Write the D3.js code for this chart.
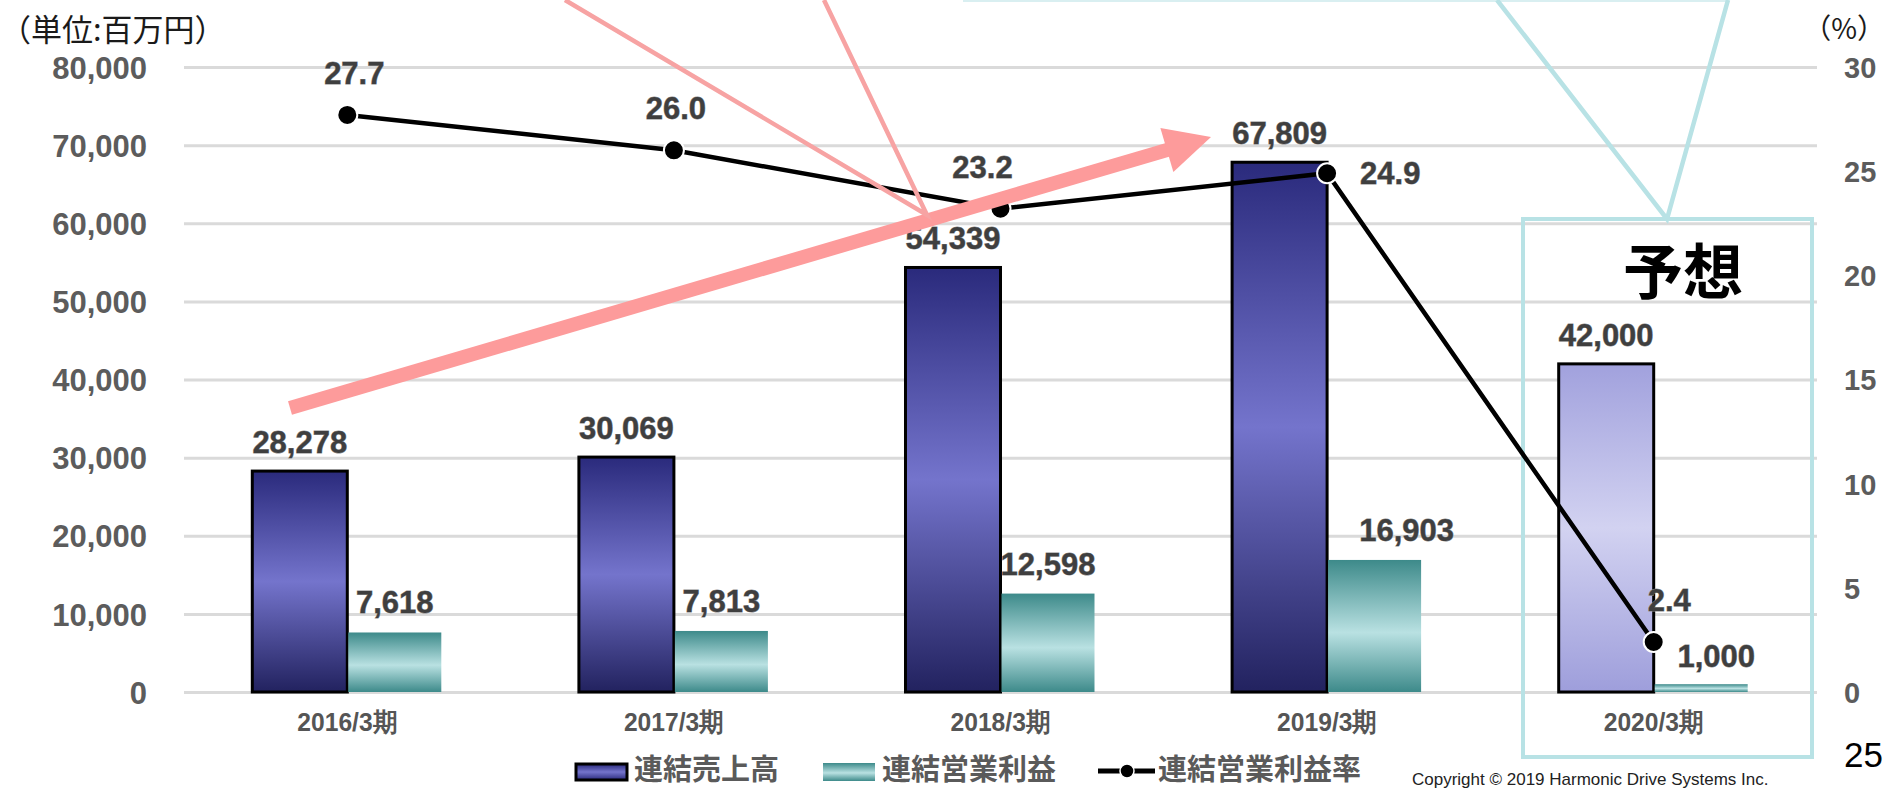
<!DOCTYPE html>
<html>
<head>
<meta charset="utf-8">
<script src="https://cdn.jsdelivr.net/npm/d3@7"></script>
<style>
  body { margin: 0; background: #fff; }
  svg { display: block; }
</style>
</head>
<body>
<svg id="chart" width="1885" height="789"></svg>
<script>
// data
var categories = ["2016/3期", "2017/3期", "2018/3期", "2019/3期", "2020/3期"];
var sales = [28278, 30069, 54339, 67809, 42000];      // 連結売上高
var profit = [7618, 7813, 12598, 16903, 1000];        // 連結営業利益
var margin = [27.7, 26.0, 23.2, 24.9, 2.4];           // 連結営業利益率 (%)
var leftTicks = [0, 10000, 20000, 30000, 40000, 50000, 60000, 70000, 80000];
var rightTicks = [0, 5, 10, 15, 20, 25, 30];
var legendNames = ["連結売上高", "連結営業利益", "連結営業利益率"];
var forecastIndex = 4;

var svg = d3.select("#chart");
var numFont = "'Liberation Sans', Arial, sans-serif";
var jpFont = "'Noto Sans CJK JP', sans-serif";

var x0 = 184, x1 = 1817, yTop = 67, yBase = 692;

var x = d3.scaleBand().domain(categories).range([x0, x1]);
var yL = d3.scaleLinear().domain([0, 80000]).range([yBase, yTop]);
var yR = d3.scaleLinear().domain([0, 30]).range([yBase, yTop]);
var cx = function (d) { return x(d) + x.bandwidth() / 2; };

// gradients
var defs = svg.append("defs");
function grad(id, stops) {
    var g = defs.append("linearGradient").attr("id", id)
        .attr("x1", 0).attr("y1", 0).attr("x2", 0).attr("y2", 1);
    stops.forEach(function (s) {
        g.append("stop").attr("offset", s[0]).attr("stop-color", s[1]);
    });
}
grad("gSales", [[0, "#2a2a7c"], [0.5, "#7474cc"], [1, "#22225f"]]);
grad("gProfit", [[0, "#3d8a8a"], [0.55, "#b9e1e2"], [1, "#3d8a8a"]]);
grad("gForecast", [[0, "#a1a1dd"], [0.5, "#d2d2f1"], [1, "#9e9edb"]]);
grad("gLegSales", [[0, "#2a2a7c"], [0.5, "#7474cc"], [1, "#2a2a7c"]]);

// gridlines
var grid = svg.append("g")
    .attr("transform", "translate(" + x0 + ",0)")
    .call(d3.axisLeft(yL).tickValues(leftTicks).tickSize(-(x1 - x0)).tickFormat(""));
grid.select(".domain").remove();
grid.selectAll("line").attr("stroke", "#dadada").attr("stroke-width", 3);

// left axis labels
var axL = svg.append("g")
    .attr("transform", "translate(" + x0 + ",0)")
    .call(d3.axisLeft(yL).tickValues(leftTicks).tickSize(0).tickPadding(37).tickFormat(d3.format(",")));
axL.select(".domain").remove();
axL.selectAll("text")
    .attr("font-family", numFont).attr("font-size", 31).attr("font-weight", "bold")
    .attr("fill", "#5c5c5c").attr("dy", "0.36em");

// right axis labels
var axR = svg.append("g")
    .attr("transform", "translate(" + x1 + ",0)")
    .call(d3.axisRight(yR).tickValues(rightTicks).tickSize(0).tickPadding(27));
axR.select(".domain").remove();
axR.selectAll("text")
    .attr("font-family", numFont).attr("font-size", 29).attr("font-weight", "bold")
    .attr("fill", "#5c5c5c").attr("dy", "0.36em");

// unit labels
svg.append("text").attr("x", 0).attr("y", 41)
    .attr("font-family", jpFont).attr("font-size", 31).attr("fill", "#1a1a1a")
    .text("（単位:百万円）");
svg.append("text").attr("x", 1885).attr("y", 39).attr("text-anchor", "end")
    .attr("font-family", jpFont).attr("font-size", 28).attr("fill", "#1a1a1a")
    .text("（%）");

// forecast box and its callout
svg.append("rect")
    .attr("x", 1523).attr("y", 219).attr("width", 289).attr("height", 538)
    .attr("fill", "none").attr("stroke", "#b8e2e5").attr("stroke-width", 4);
svg.append("line").attr("x1", 963).attr("y1", 1).attr("x2", 1728).attr("y2", 1)
    .attr("stroke", "#d9eff1").attr("stroke-width", 2);
svg.append("path")
    .attr("d", "M1497,0 L1667,219 L1728,0")
    .attr("fill", "none").attr("stroke", "#b8e2e5").attr("stroke-width", 4.5);
svg.append("text").attr("x", 1683).attr("y", 294).attr("text-anchor", "middle")
    .attr("font-family", jpFont).attr("font-size", 60).attr("font-weight", "bold")
    .attr("fill", "#000").text("予想");

// bars
var barW = 95;
svg.append("g").selectAll("rect")
    .data(sales)
    .enter()
    .append("rect")
    .attr("x", function (d, i) { return cx(categories[i]) - barW; })
    .attr("y", function (d) { return yL(d); })
    .attr("width", barW)
    .attr("height", function (d) { return yBase - yL(d); })
    .attr("fill", function (d, i) { return i == forecastIndex ? "url(#gForecast)" : "url(#gSales)"; })
    .attr("stroke", "#000")
    .attr("stroke-width", 3);

svg.append("g").selectAll("rect")
    .data(profit)
    .enter()
    .append("rect")
    .attr("x", function (d, i) { return cx(categories[i]) + 1; })
    .attr("y", function (d) { return yL(d); })
    .attr("width", barW - 2)
    .attr("height", function (d) { return yBase - yL(d); })
    .attr("fill", "url(#gProfit)");

// category labels
svg.append("g").selectAll("text")
    .data(categories)
    .enter()
    .append("text")
    .attr("x", function (d) { return cx(d) - 50; })
    .attr("y", 731)
    .attr("textLength", 100)
    .attr("lengthAdjust", "spacingAndGlyphs")
    .attr("font-family", numFont).attr("font-size", 26).attr("font-weight", "bold")
    .attr("fill", "#555")
    .text(function (d) { return d; });

// value labels
function valueText(sel) {
    sel.attr("font-family", numFont).attr("font-size", 31).attr("font-weight", "bold")
        .attr("fill", "#3f3f3f").attr("stroke", "#8c8c8c").attr("stroke-width", 0.8)
        .attr("paint-order", "stroke").attr("text-anchor", "middle");
}
svg.append("g").selectAll("text")
    .data(sales)
    .enter()
    .append("text")
    .attr("x", function (d, i) { return cx(categories[i]) - barW / 2; })
    .attr("y", function (d) { return yL(d) - 18; })
    .text(d3.format(","))
    .call(valueText);

svg.append("g").selectAll("text")
    .data(profit)
    .enter()
    .append("text")
    .attr("x", function (d, i) {
        var shift = i == 3 ? 32 : (i == 4 ? 15 : 0);
        return cx(categories[i]) + barW / 2 + shift;
    })
    .attr("y", function (d, i) { return i == 4 ? 667 : yL(d) - 19; })
    .text(d3.format(","))
    .call(valueText);

// margin line
var line = d3.line()
    .x(function (d, i) { return cx(categories[i]); })
    .y(function (d) { return yR(d); });
svg.append("path")
    .datum(margin)
    .attr("d", line)
    .attr("fill", "none")
    .attr("stroke", "#000")
    .attr("stroke-width", 4.5);
svg.append("g").selectAll("circle")
    .data(margin)
    .enter()
    .append("circle")
    .attr("cx", function (d, i) { return cx(categories[i]); })
    .attr("cy", function (d) { return yR(d); })
    .attr("r", 10)
    .attr("fill", "#000")
    .attr("stroke", "#fff")
    .attr("stroke-width", 2);

svg.append("g").selectAll("text")
    .data(margin)
    .enter()
    .append("text")
    .attr("x", function (d, i) {
        var px = cx(categories[i]);
        if (i == 3) return px + 33;
        if (i == 4) return px - 6;
        return px + (i == 0 ? 7 : (i == 2 ? -18 : 2));
    })
    .attr("y", function (d, i) { return i == 3 ? yR(d) + 11 : yR(d) - 31; })
    .text(d3.format(".1f"))
    .call(valueText)
    .attr("text-anchor", function (d, i) { return i >= 3 ? "start" : "middle"; });

// pink growth arrow
var ax0 = 290, ay0 = 408, ax1 = 1211, ay1 = 137;
var len = Math.hypot(ax1 - ax0, ay1 - ay0);
var ux = (ax1 - ax0) / len, uy = (ay1 - ay0) / len;
var headL = 46, headW = 23;
var bx = ax1 - ux * headL, by = ay1 - uy * headL;
svg.append("line")
    .attr("x1", ax0).attr("y1", ay0).attr("x2", bx + ux * 2).attr("y2", by + uy * 2)
    .attr("stroke", "#fd9b9b").attr("stroke-width", 14);
svg.append("path")
    .attr("d", "M" + ax1 + "," + ay1 +
        "L" + (bx - uy * headW) + "," + (by + ux * headW) +
        "L" + (bx + uy * headW) + "," + (by - ux * headW) + "Z")
    .attr("fill", "#fd9b9b");

// pink callout lines
svg.append("path")
    .attr("d", "M565,0 L927,215 L824,0")
    .attr("fill", "none").attr("stroke", "#f7a3a3").attr("stroke-width", 4.5);

// legend
var legY = 771;
var leg = svg.append("g");
leg.append("rect").attr("x", 576).attr("y", legY - 7).attr("width", 51).attr("height", 16)
    .attr("fill", "url(#gLegSales)").attr("stroke", "#000").attr("stroke-width", 3);
leg.append("rect").attr("x", 823).attr("y", legY - 8).attr("width", 52).attr("height", 18)
    .attr("fill", "url(#gProfit)");
leg.append("line").attr("x1", 1098).attr("x2", 1155).attr("y1", legY).attr("y2", legY)
    .attr("stroke", "#000").attr("stroke-width", 5);
leg.append("circle").attr("cx", 1127).attr("cy", legY).attr("r", 7)
    .attr("fill", "#000").attr("stroke", "#fff").attr("stroke-width", 1.5);
leg.selectAll("text")
    .data(legendNames)
    .enter()
    .append("text")
    .attr("x", function (d, i) { return [634, 882, 1158][i]; })
    .attr("y", 780)
    .attr("font-family", jpFont).attr("font-size", 29).attr("font-weight", "bold")
    .attr("fill", "#5a5a5a")
    .text(function (d) { return d; });

// page footer
svg.append("text").attr("x", 1883).attr("y", 767).attr("text-anchor", "end")
    .attr("font-family", numFont).attr("font-size", 35).attr("fill", "#000").text("25");
svg.append("text").attr("x", 1412).attr("y", 785)
    .attr("font-family", numFont).attr("font-size", 17).attr("fill", "#222")
    .text("Copyright © 2019 Harmonic Drive Systems Inc.");
</script>
</body>
</html>
